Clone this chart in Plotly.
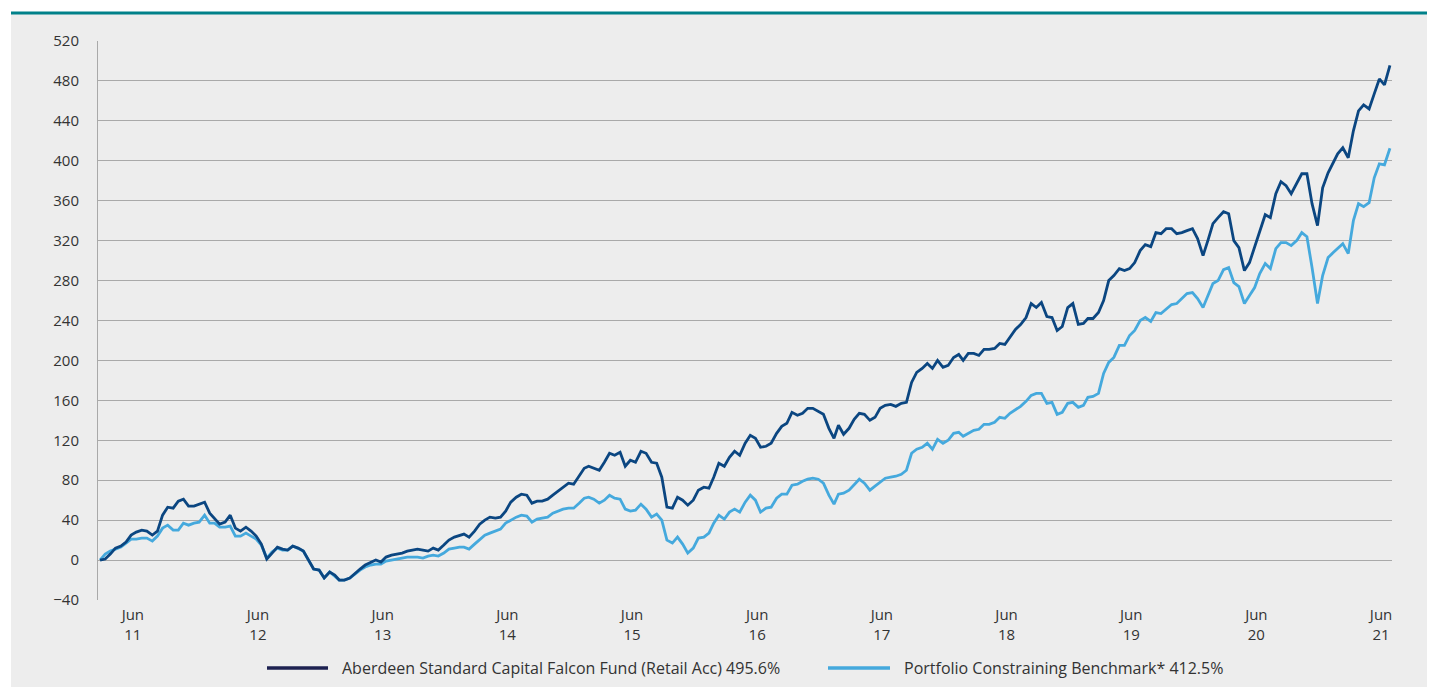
import pandas as pd
import plotly.graph_objects as go

# half-monthly points (15th and month end), Mar 2011 .. Jul 2021
dates = pd.date_range("2011-03-31", "2021-07-31", freq="SME")

fund = [
    0, 1, 6, 12, 14, 18, 25, 28, 30, 29,
    25, 29, 45, 53, 52, 59, 61, 54, 54, 56,
    58, 47, 42, 36, 38, 45, 32, 29, 33, 29,
    24, 16, 1, 7, 13, 11, 10, 14, 12, 9,
    0, -9, -10, -18, -12, -15, -20, -20, -18, -13,
    -9, -5, -2, 0, -2, 3, 5, 6, 7, 9,
    10, 11, 10, 9, 12, 10, 15, 20, 23, 25,
    26, 23, 29, 36, 40, 43, 42, 43, 49, 58,
    63, 66, 65, 57, 59, 59, 61, 65, 69, 73,
    77, 76, 85, 92, 94, 92, 90, 98, 107, 105,
    108, 94, 100, 98, 109, 107, 98, 97, 83, 53,
    52, 63, 60, 55, 60, 70, 73, 72, 83, 97,
    94, 103, 109, 105, 117, 125, 122, 113, 114, 117,
    127, 134, 137, 148, 145, 147, 152, 152, 149, 146,
    132, 122, 135, 126, 132, 141, 147, 146, 140, 143,
    152, 155, 156, 154, 157, 158, 178, 188, 192, 197,
    192, 200, 193, 195, 203, 206, 200, 207, 207, 205,
    211, 211, 212, 217, 216, 223, 231, 236, 243, 257,
    253, 258, 244, 243, 230, 234, 253, 257, 236, 237,
    242, 242, 248, 260, 280, 285, 292, 290, 292, 298,
    310, 316, 314, 328, 327, 332, 332, 327, 328, 330,
    332, 322, 305, 321, 337, 343, 349, 347, 320, 313,
    290, 298, 313, 330, 346, 343, 367, 379, 375, 367,
    377, 387, 387, 357, 335, 373, 388, 399, 407, 413,
    403, 430, 450, 456, 452, 467, 482, 476, 495.6,
]
benchmark = [
    0, 6, 9, 11, 13, 17, 21, 21, 22, 22,
    19, 24, 32, 35, 30, 30, 37, 35, 37, 38,
    45, 37, 37, 33, 33, 34, 24, 24, 27, 24,
    21, 15, 2, 8, 12, 10, 10, 14, 11, 9,
    0, -9, -10, -18, -12, -16, -20, -20, -18, -14,
    -10, -7, -5, -4, -4, -1, 0, 1, 2, 3,
    3, 3, 2, 4, 5, 4, 7, 11, 12, 13,
    13, 11, 16, 21, 25, 27, 29, 31, 37, 40,
    43, 45, 44, 38, 41, 42, 43, 47, 49, 51,
    52, 52, 57, 62, 63, 61, 57, 60, 65, 62,
    61, 51, 49, 50, 56, 51, 43, 46, 40, 20,
    17, 23, 16, 7, 12, 22, 23, 27, 37, 45,
    41, 48, 51, 48, 58, 65, 60, 48, 52, 53,
    62, 66, 66, 75, 76, 79, 81, 82, 81, 77,
    65, 56, 66, 67, 70, 76, 81, 77, 70, 74,
    78, 82, 83, 84, 86, 90, 107, 111, 113, 117,
    111, 121, 117, 120, 127, 128, 124, 127, 130, 131,
    136, 136, 138, 143, 142, 147, 151, 154, 159, 165,
    167, 167, 157, 158, 146, 148, 157, 158, 153, 155,
    163, 164, 167, 187, 198, 203, 215, 215, 225, 230,
    240, 243, 239, 248, 247, 251, 256, 257, 262, 267,
    268, 262, 253, 266, 277, 280, 291, 293, 278, 274,
    257, 265, 273, 287, 297, 292, 312, 318, 318, 315,
    320, 328, 324, 293, 257, 285, 303, 308, 312, 317,
    307, 340, 357, 354, 358, 383, 397, 396, 412.5,
]

fund_label = "Aberdeen Standard Capital Falcon Fund (Retail Acc) 495.6%"
bench_label = "Portfolio Constraining Benchmark* 412.5%"
tick_years = list(range(2011, 2022))

FUND_LINE = "#0b4681"
FUND_KEY = "#1d2150"
BENCH_LINE = "#45a9dd"
TEXT = "#333333"
GRID = "#a9a9a9"

# the page puts the figure 8px in from the top-left corner of the window
OFF = 8
W, H = 1435 - OFF, 687 - OFF
L, R, T, B = 98 - OFF, 43, 41 - OFF, 87


def px_x(x):
    return (x - OFF - L) / (W - L - R)


def px_y(y):
    return (H - B - (y - OFF)) / (H - B - T)


fig = go.Figure()
fig.add_trace(go.Scatter(x=dates, y=benchmark, mode="lines", name=bench_label,
                         line=dict(color=BENCH_LINE, width=2.8)))
fig.add_trace(go.Scatter(x=dates, y=fund, mode="lines", name=fund_label,
                         line=dict(color=FUND_LINE, width=2.8)))

shapes = [
    # grey panel and teal rule along the top
    dict(type="rect", xref="paper", yref="paper", x0=px_x(11), x1=px_x(1445),
         y0=px_y(14), y1=px_y(700), fillcolor="#ededed", line_width=0, layer="below"),
    dict(type="line", xref="paper", yref="paper", x0=px_x(11), x1=px_x(1445),
         y0=px_y(13), y1=px_y(13), line=dict(color="#00818a", width=3)),
    # legend keys
    dict(type="line", xref="paper", yref="paper", x0=px_x(267), x1=px_x(328),
         y0=px_y(668), y1=px_y(668), line=dict(color=FUND_KEY, width=3.5)),
    dict(type="line", xref="paper", yref="paper", x0=px_x(828), x1=px_x(890),
         y0=px_y(668), y1=px_y(668), line=dict(color=BENCH_LINE, width=3.5)),
]
annotations = [
    dict(text=fund_label, xref="paper", yref="paper", x=px_x(340), y=px_y(668),
         xanchor="left", yanchor="middle", showarrow=False, font=dict(size=16, color=TEXT)),
    dict(text=bench_label, xref="paper", yref="paper", x=px_x(902), y=px_y(668),
         xanchor="left", yanchor="middle", showarrow=False, font=dict(size=16, color=TEXT)),
]

fig.update_layout(
    width=W, height=H,
    margin=dict(l=L, r=R, t=T, b=B),
    paper_bgcolor="white",
    plot_bgcolor="rgba(0,0,0,0)",
    font=dict(family="Open Sans", size=15, color=TEXT),
    showlegend=False,
    shapes=shapes,
    annotations=annotations,
)
fig.update_xaxes(
    range=["2011-03-25", "2021-08-06"],
    tickvals=[pd.Timestamp(f"{y}-07-05") for y in tick_years],
    ticktext=[f"Jun<br>{str(y)[2:]}" for y in tick_years],
    showgrid=False, zeroline=False, showline=False, ticks="",
    tickangle=0, ticklabelstandoff=4,
)
fig.update_yaxes(
    range=[-40, 520], dtick=40,
    showgrid=True, gridcolor=GRID, gridwidth=1,
    zeroline=False, showline=True, linecolor=GRID, linewidth=1,
    ticks="", ticklabelstandoff=15,
)

fig.write_html("out.html")
